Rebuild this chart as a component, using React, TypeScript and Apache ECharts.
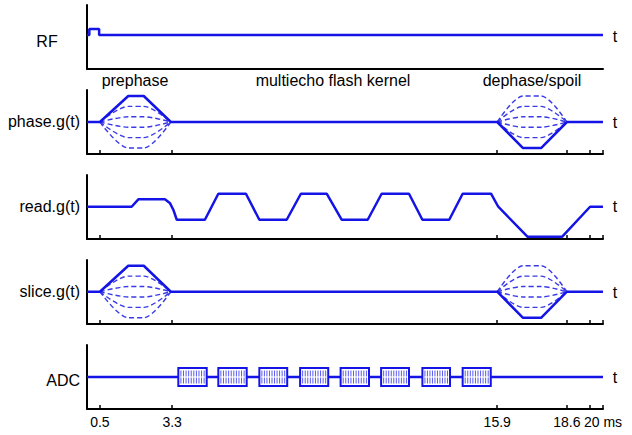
import React, { useEffect, useRef } from 'react';
import * as echarts from 'echarts';

const BLUE = '#1414e6';
const DASH_BLUE = '#3a3ae8';
const FONT = '"Liberation Sans", Arial, sans-serif';

// time axis (ms)
const T_MIN = 0;
const T_MAX = 20;
const tickValues = [0.5, 3.3, 15.9, 18.6, 19.5, 20];
const labelValues = [0.5, 3.3, 15.9, 18.6, 20];
const labelTexts = ['0.5', '3.3', '15.9', '18.6', '20 ms'];

// RF
const rfT = [0, 0.09, 0.09, 0.47, 0.47, 20];
const rfV = [0, 0, 6, 6, 0, 0];

// phase / slice solid waveform
const gradSolidT = [0, 0.5, 1.6, 2.2, 3.25, 15.9, 16.9, 17.6, 18.6, 20];
const gradSolidV = [0, 0, 1, 1, 0, 0, -1, -1, 0, 0];

// phase-encode table lobes (dashed)
const prephaseT = [0.5, 1.6, 2.2, 3.25];
const dephaseT = [15.9, 16.9, 17.6, 18.6];
const prephaseLevels = [0.6, 0.2, -0.2, -0.6, -1.0];
const dephaseLevels = [1.0, 0.6, 0.2, -0.2, -0.6];

// read gradient
const readT = [0, 1.73, 1.99, 3.02, 3.22, 3.35, 3.48, 4.57, 5.09, 6.16, 6.68, 7.74, 8.29, 9.29, 9.87, 10.88, 11.42, 12.48, 13.0, 14.04, 14.56, 15.66, 15.94, 17.07, 18.42, 19.5, 20];
const readV = [0, 0, 0.57, 0.57, 0.26, -0.25, -1, -1, 1, 1, -1, -1, 1, 1, -1, -1, 1, 1, -1, -1, 1, 1, 0, -2.3, -2.3, 0, 0];

// ADC windows
const adcStart = [3.54, 5.09, 6.68, 8.26, 9.83, 11.4, 13.0, 14.56];
const adcEnd = [4.64, 6.19, 7.76, 9.35, 10.93, 12.48, 14.07, 15.65];
const adcBaseT = [0, 20];
const adcBaseV = [0, 0];
const ADC_HALF = 9;
const ADC_SAMPLE_LINES = 10;

// panels
const panelNames = ['RF', 'phase.g(t)', 'read.g(t)', 'slice.g(t)', 'ADC'];
const panelTops = [5, 90, 175, 260, 345];
const PANEL_H = 64;
const yMins = [-34, -1.23, -2.48, -1.24, -32];
const yMaxs = [30, 1.23, 2.44, 1.22, 32];

const zip = (t: number[], v: number[]) => t.map((x, i) => [x, v[i]]);

export default function App() {
  const ref = useRef<HTMLDivElement>(null);
  useEffect(() => {
    if (!ref.current) return;
    const chart = echarts.init(ref.current, undefined, { renderer: 'svg' });

    const grids = panelTops.map((top) => ({
      left: 87,
      right: 29,
      top,
      height: PANEL_H,
      outerBoundsMode: 'none',
      containLabel: false,
    }));

    const xAxes = panelTops.map((_, i) => ({
      type: 'value',
      gridIndex: i,
      min: T_MIN,
      max: T_MAX,
      axisLine: { show: true, onZero: false, lineStyle: { color: '#000', width: 2 } },
      axisTick: {
        show: i > 0,
        inside: true,
        length: 4,
        customValues: tickValues,
        lineStyle: { color: '#000', width: 1.5 },
      },
      axisLabel: {
        show: i === 4,
        customValues: labelValues,
        formatter: (v: number) => {
          const k = labelValues.findIndex((x) => Math.abs(x - v) < 1e-6);
          return k >= 0 ? labelTexts[k] : '';
        },
        fontSize: 14,
        color: '#000',
        margin: 6,
        fontFamily: FONT,
      },
      splitLine: { show: false },
    }));

    const yAxes = panelTops.map((_, i) => ({
      type: 'value',
      gridIndex: i,
      min: yMins[i],
      max: yMaxs[i],
      axisLine: { show: true, onZero: false, lineStyle: { color: '#000', width: 2 } },
      axisTick: { show: false },
      axisLabel: { show: false },
      splitLine: { show: false },
    }));

    const series: any[] = [];
    const solid = (idx: number, data: number[][]) => ({
      type: 'line',
      xAxisIndex: idx,
      yAxisIndex: idx,
      data,
      symbol: 'none',
      lineStyle: { color: BLUE, width: 2.5 },
      z: 3,
    });
    const dashed = (idx: number, data: number[][]) => ({
      type: 'line',
      xAxisIndex: idx,
      yAxisIndex: idx,
      data,
      symbol: 'none',
      smooth: 0.3,
      lineStyle: { color: DASH_BLUE, width: 1.4, type: [5, 3] },
      z: 2,
    });

    series.push(solid(0, zip(rfT, rfV)));
    [1, 3].forEach((idx) => {
      prephaseLevels.forEach((lv) => {
        series.push(dashed(idx, zip(prephaseT, [0, lv, lv, 0])));
      });
      dephaseLevels.forEach((lv) => {
        series.push(dashed(idx, zip(dephaseT, [0, lv, lv, 0])));
      });
      series.push(solid(idx, zip(gradSolidT, gradSolidV)));
    });
    series.push(solid(2, zip(readT, readV)));
    series.push(solid(4, zip(adcBaseT, adcBaseV)));
    series.push({
      type: 'custom',
      xAxisIndex: 4,
      yAxisIndex: 4,
      z: 4,
      data: adcStart.map((s, i) => [s, adcEnd[i]]),
      encode: { x: [0, 1] },
      renderItem: (_params: any, api: any) => {
        const s = api.value(0);
        const e = api.value(1);
        const tl = api.coord([s, ADC_HALF]);
        const br = api.coord([e, -ADC_HALF]);
        const w = br[0] - tl[0];
        const h = br[1] - tl[1];
        const children: any[] = [
          {
            type: 'rect',
            shape: { x: tl[0], y: tl[1], width: w, height: h },
            style: { fill: '#fff', stroke: BLUE, lineWidth: 2 },
          },
        ];
        for (let k = 1; k <= ADC_SAMPLE_LINES; k++) {
          const x = tl[0] + (w * k) / (ADC_SAMPLE_LINES + 1);
          children.push({
            type: 'line',
            shape: { x1: x, y1: tl[1] + 2.5, x2: x, y2: br[1] - 2.5 },
            style: { stroke: '#5a5af0', lineWidth: 1 },
          });
        }
        children.push({
          type: 'line',
          shape: { x1: tl[0] + 2, y1: (tl[1] + br[1]) / 2, x2: br[0] - 2, y2: (tl[1] + br[1]) / 2 },
          style: { stroke: '#ffffff', lineWidth: 1.2 },
        });
        return { type: 'group', children };
      },
    });

    const labelY = [41, 121, 206, 291, 380];
    const tY = [36, 122, 206, 292, 377];
    const graphics: any[] = [];
    panelNames.forEach((name, i) => {
      const isRF = i === 0;
      graphics.push({
        type: 'text',
        x: isRF ? 47 : 80,
        y: labelY[i],
        style: {
          text: name,
          fontSize: 16,
          fontFamily: FONT,
          fill: '#000',
          textAlign: isRF ? 'center' : 'right',
          textVerticalAlign: 'middle',
        },
      });
      graphics.push({
        type: 'text',
        x: 615,
        y: tY[i],
        style: {
          text: 't',
          fontSize: 16,
          fontFamily: FONT,
          fill: '#000',
          textAlign: 'center',
          textVerticalAlign: 'middle',
        },
      });
    });
    const sections = [
      { text: 'prephase', x: 135 },
      { text: 'multiecho flash kernel', x: 333 },
      { text: 'dephase/spoil', x: 532 },
    ];
    sections.forEach((s) => {
      graphics.push({
        type: 'text',
        x: s.x,
        y: 80,
        style: {
          text: s.text,
          fontSize: 16,
          fontFamily: FONT,
          fill: '#000',
          textAlign: 'center',
          textVerticalAlign: 'middle',
        },
      });
    });

    chart.setOption({
      animation: false,
      backgroundColor: '#fff',
      textStyle: { fontFamily: FONT },
      grid: grids,
      xAxis: xAxes,
      yAxis: yAxes,
      series,
      graphic: graphics,
    });
    return () => chart.dispose();
  }, []);
  return (
    <div
      ref={ref}
      style={{ position: 'absolute', left: 0, top: 0, width: 632, height: 435 }}
    />
  );
}
